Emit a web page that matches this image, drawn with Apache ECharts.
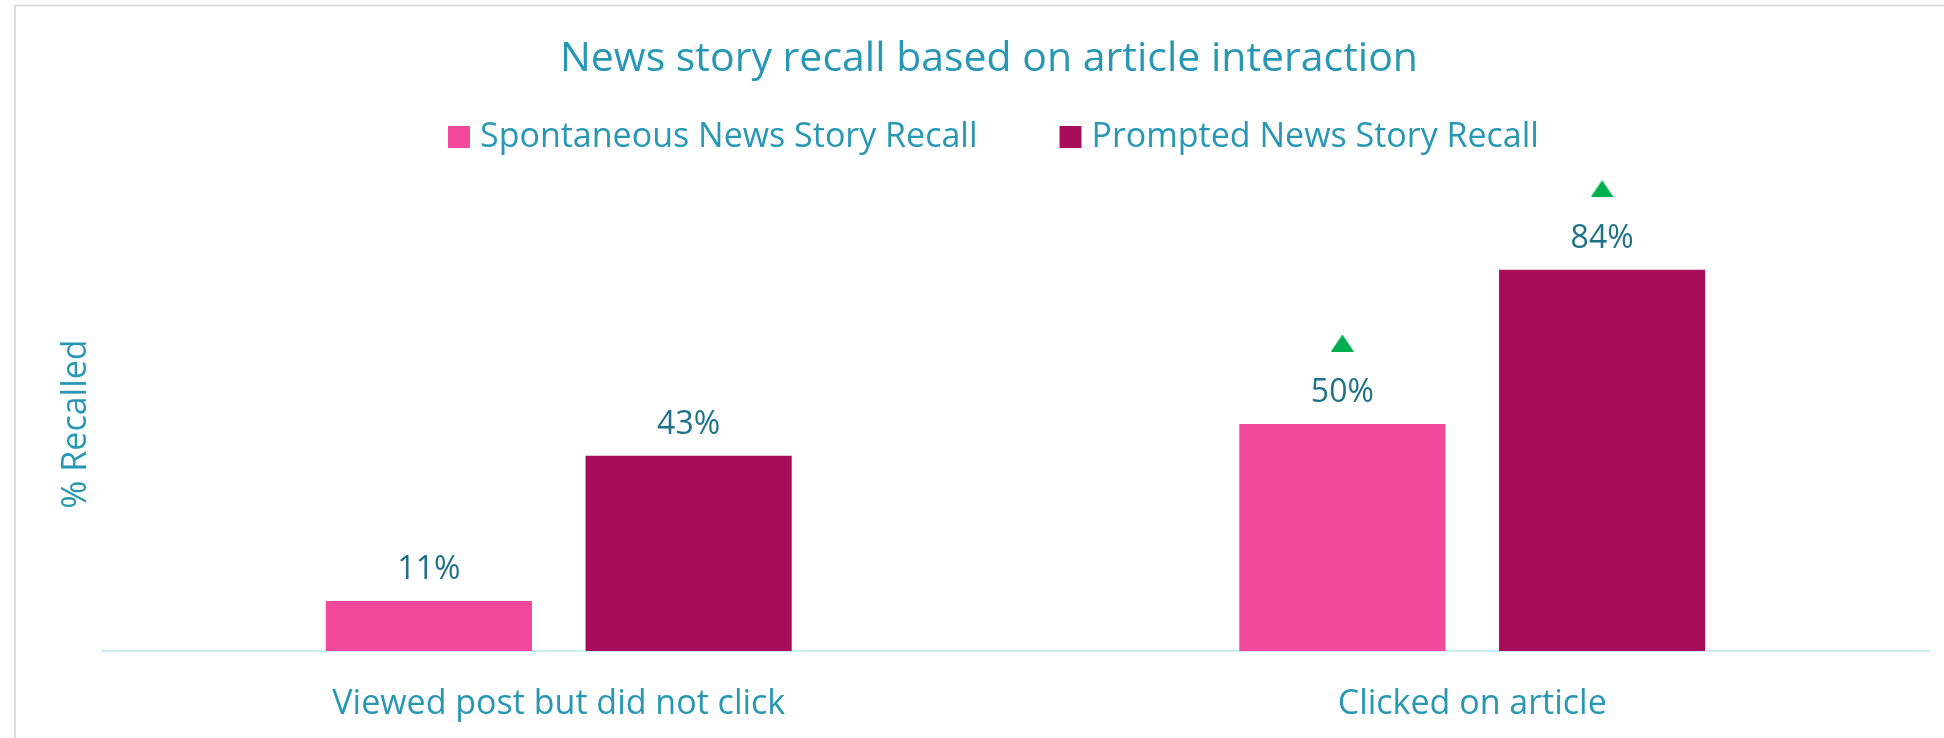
<!DOCTYPE html>
<html>
<head>
<meta charset="utf-8">
<script src="https://cdn.jsdelivr.net/npm/echarts@6/dist/echarts.min.js"></script>
<style>
  html, body { margin: 0; padding: 0; background: #ffffff; }
  #chart { width: 1944px; height: 738px; }
</style>
</head>
<body>
<div id="chart"></div>
<script>
// Recall by interaction type
const categories = ['Viewed post but did not click', 'Clicked on article'];
const seriesNames = ['Spontaneous News Story Recall', 'Prompted News Story Recall'];
const spontaneous = [11, 50];
const prompted = [43, 84];
// significant increase markers (green up-triangles)
const spontaneousUp = [false, true];
const promptedUp = [false, true];

const FONT = '"Open Sans", "Noto Sans", sans-serif';
const TEAL = '#2797b3';
const LABEL_TEAL = '#1f7189';
const PINK = '#f3499c';
const PLUM = '#a90c5a';
const GREEN = '#00b050';

// small green triangle used as a rich-text background image
const tri = document.createElement('canvas');
tri.width = 23; tri.height = 17;
(function () {
  const c = tri.getContext('2d');
  c.fillStyle = GREEN;
  c.beginPath();
  c.moveTo(11.5, 0);
  c.lineTo(23, 17);
  c.lineTo(0, 17);
  c.closePath();
  c.fill();
})();

function makeLabel(flags) {
  return {
    show: true,
    position: 'top',
    distance: 16,
    formatter: function (p) {
      const v = '{v|' + p.value + '%}';
      return flags[p.dataIndex] ? '{t|}\n' + v : v;
    },
    rich: {
      v: { fontFamily: FONT, fontSize: 32, color: LABEL_TEAL, lineHeight: 30 },
      t: { width: 23, height: 17, lineHeight: 70, backgroundColor: { image: tri } }
    }
  };
}

const chart = echarts.init(document.getElementById('chart'), null, { renderer: 'canvas' });
chart.setOption({
  animation: false,
  backgroundColor: '#ffffff',
  graphic: [{
    type: 'rect',
    shape: { x: 15, y: 5.5, width: 2000, height: 800 },
    style: { fill: 'none', stroke: '#dddddd', lineWidth: 2 },
    silent: true
  }],
  title: {
    text: 'News story recall based on article interaction',
    left: 984,
    top: 34,
    textAlign: 'center',
    textStyle: { fontFamily: FONT, fontSize: 41, fontWeight: 'normal', color: TEAL }
  },
  legend: {
    top: 115,
    left: 443,
    itemWidth: 22,
    itemHeight: 22,
    itemGap: 82,
    icon: 'rect',
    textStyle: { fontFamily: FONT, fontSize: 34, color: TEAL, padding: [0, 0, 0, 5] },
    data: seriesNames
  },
  grid: { left: 102, right: 15, top: 197, bottom: 87, containLabel: false },
  xAxis: {
    type: 'category',
    data: categories,
    axisLine: { lineStyle: { color: '#c8eef2', width: 2 } },
    axisTick: { show: false },
    axisLabel: { fontFamily: FONT, fontSize: 34, color: TEAL, margin: 36 }
  },
  yAxis: {
    type: 'value',
    min: 0,
    max: 100,
    name: '% Recalled',
    nameLocation: 'middle',
    nameRotate: 90,
    nameGap: 9,
    nameMoveOverlap: false,
    nameTextStyle: { fontFamily: FONT, fontSize: 34, color: TEAL },
    axisLine: { show: false },
    axisTick: { show: false },
    axisLabel: { show: false },
    splitLine: { show: false }
  },
  series: [
    {
      name: seriesNames[0],
      type: 'bar',
      data: spontaneous,
      barGap: '26%',
      barCategoryGap: '49%',
      itemStyle: { color: PINK },
      label: makeLabel(spontaneousUp)
    },
    {
      name: seriesNames[1],
      type: 'bar',
      data: prompted,
      barGap: '26%',
      barCategoryGap: '49%',
      itemStyle: { color: PLUM },
      label: makeLabel(promptedUp)
    }
  ]
});
</script>
</body>
</html>
